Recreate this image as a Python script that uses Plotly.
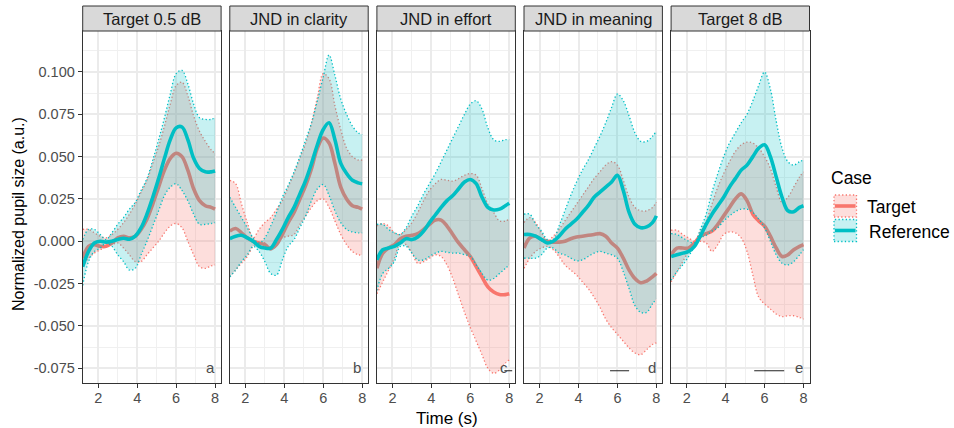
import plotly.graph_objects as go

# ---------------- data ----------------
TIME = [1.2, 1.5, 1.8, 2.1, 2.4, 2.7, 3.0, 3.3, 3.6, 3.9, 4.2, 4.5, 4.8, 5.1,
        5.4, 5.7, 6.0, 6.3, 6.6, 6.9, 7.2, 7.5, 7.8, 8.0]

PANELS = ["Target 0.5 dB", "JND in clarity", "JND in effort", "JND in meaning", "Target 8 dB"]
LETTERS = ["a", "b", "c", "d", "e"]
CASES = ["Target", "Reference"]

# Panel a
a_tgt = [-0.010, -0.003, -0.002, -0.003, -0.003, -0.001, 0.002, 0.003, 0.002, 0.003, 0.007, 0.013,
         0.022, 0.032, 0.042, 0.049, 0.052, 0.050, 0.042, 0.031, 0.024, 0.021, 0.020, 0.019]
a_tgt_lo = [-0.015, -0.010, -0.007, -0.005, -0.003, -0.002, -0.001, -0.004, -0.008, -0.012, -0.012, -0.008,
            -0.004, 0.000, 0.005, 0.009, 0.0105, 0.008, 0.000, -0.008, -0.015, -0.016, -0.0145, -0.014]
a_tgt_hi = [0.007, 0.007, 0.005, 0.003, 0.002, 0.004, 0.007, 0.011, 0.016, 0.022, 0.029, 0.036,
            0.046, 0.056, 0.068, 0.081, 0.092, 0.094, 0.086, 0.074, 0.065, 0.059, 0.054, 0.052]
a_ref = [-0.015, -0.006, -0.001, 0.000, -0.0005, 0.000, 0.001, 0.0018, 0.0012, 0.003, 0.008, 0.016,
         0.026, 0.037, 0.049, 0.060, 0.067, 0.0675, 0.060, 0.049, 0.043, 0.041, 0.041, 0.0415]
a_ref_lo = [-0.026, -0.012, -0.006, -0.004, -0.001, -0.003, -0.008, -0.012, -0.017, -0.016, -0.008, 0.000,
            0.009, 0.018, 0.027, 0.032, 0.034, 0.030, 0.024, 0.016, 0.010, 0.010, 0.0105, 0.011]
a_ref_hi = [0.001, 0.007, 0.007, 0.004, 0.001, 0.005, 0.010, 0.014, 0.019, 0.023, 0.030, 0.037,
            0.048, 0.060, 0.073, 0.087, 0.099, 0.101, 0.093, 0.081, 0.073, 0.072, 0.072, 0.073]

# Panel b
b_tgt = [0.006, 0.0075, 0.005, 0.002, 0.000, -0.001, -0.002, -0.0045, -0.002, 0.004, 0.011, 0.017,
         0.025, 0.033, 0.043, 0.055, 0.061, 0.058, 0.046, 0.032, 0.025, 0.021, 0.020, 0.019]
b_tgt_lo = [-0.021, -0.017, -0.013, -0.009, -0.003, -0.001, -0.001, -0.005, -0.002, 0.002, 0.003, 0.004,
            0.010, 0.015, 0.020, 0.024, 0.025, 0.020, 0.012, 0.004, -0.002, -0.006, -0.008, -0.008]
b_tgt_hi = [0.036, 0.034, 0.022, 0.011, 0.002, 0.007, 0.011, 0.014, 0.019, 0.024, 0.032, 0.040,
            0.049, 0.058, 0.070, 0.085, 0.099, 0.096, 0.080, 0.066, 0.055, 0.050, 0.048, 0.048]
b_ref = [0.0015, 0.003, 0.0035, 0.002, 0.000, -0.003, -0.004, -0.004, 0.001, 0.007, 0.014, 0.020,
         0.028, 0.036, 0.046, 0.057, 0.066, 0.070, 0.060, 0.046, 0.040, 0.036, 0.0345, 0.034]
b_ref_lo = [-0.021, -0.017, -0.012, -0.008, -0.003, -0.006, -0.012, -0.019, -0.020, -0.011, -0.003, 0.001,
            0.008, 0.015, 0.024, 0.031, 0.0335, 0.027, 0.018, 0.011, 0.007, 0.0055, 0.005, 0.005]
b_ref_hi = [0.026, 0.020, 0.014, 0.008, 0.002, -0.001, 0.002, 0.009, 0.017, 0.026, 0.033, 0.041,
            0.050, 0.060, 0.070, 0.083, 0.097, 0.110, 0.098, 0.084, 0.075, 0.068, 0.064, 0.063]

# Panel c
c_tgt = [-0.016, -0.007, -0.004, -0.002, 0.0015, 0.003, 0.0035, 0.0045, 0.007, 0.010, 0.0125, 0.0125,
         0.009, 0.004, -0.001, -0.005, -0.009, -0.015, -0.021, -0.027, -0.030, -0.0315, -0.0315, -0.031]
c_tgt_lo = [-0.031, -0.024, -0.017, -0.010, -0.001, -0.002, -0.007, -0.013, -0.012, -0.010, -0.008, -0.009,
            -0.014, -0.022, -0.032, -0.042, -0.051, -0.059, -0.067, -0.075, -0.078, -0.076, -0.072, -0.070]
c_tgt_hi = [0.009, 0.0105, 0.009, 0.005, 0.004, 0.007, 0.011, 0.017, 0.024, 0.030, 0.034, 0.0365,
            0.036, 0.0355, 0.037, 0.039, 0.040, 0.039, 0.031, 0.022, 0.017, 0.012, 0.012, 0.013]
c_ref = [-0.011, -0.005, -0.004, -0.003, -0.001, 0.0015, 0.001, 0.0025, 0.006, 0.011, 0.0155, 0.020,
         0.024, 0.027, 0.031, 0.035, 0.0365, 0.034, 0.026, 0.020, 0.0185, 0.019, 0.021, 0.0225]
c_ref_lo = [-0.029, -0.019, -0.016, -0.012, -0.003, -0.003, -0.007, -0.011, -0.011, -0.009, -0.007, -0.006,
            -0.0065, -0.007, -0.007, -0.008, -0.009, -0.014, -0.019, -0.023, -0.022, -0.019, -0.016, -0.014]
c_ref_hi = [0.010, 0.010, 0.007, 0.005, 0.004, 0.008, 0.015, 0.021, 0.028, 0.034, 0.040, 0.047,
            0.054, 0.061, 0.068, 0.075, 0.081, 0.083, 0.078, 0.067, 0.060, 0.059, 0.060, 0.060]

# Panel d
d_tgt = [-0.004, 0.002, 0.003, 0.001, 0.000, -0.0005, -0.0005, 0.000, 0.0015, 0.0025, 0.003, 0.0035,
         0.004, 0.0045, 0.003, -0.001, -0.004, -0.010, -0.017, -0.022, -0.0245, -0.0235, -0.021, -0.019]
d_tgt_lo = [-0.016, -0.010, -0.006, -0.004, -0.003, -0.005, -0.009, -0.014, -0.017, -0.020, -0.024, -0.028,
            -0.033, -0.039, -0.046, -0.051, -0.055, -0.059, -0.063, -0.066, -0.067, -0.064, -0.061, -0.060]
d_tgt_hi = [0.011, 0.014, 0.011, 0.005, 0.000, 0.003, 0.007, 0.012, 0.017, 0.022, 0.027, 0.032,
            0.037, 0.041, 0.045, 0.047, 0.045, 0.036, 0.026, 0.020, 0.018, 0.018, 0.020, 0.023]
d_ref = [0.004, 0.004, 0.003, 0.001, -0.001, 0.000, 0.003, 0.007, 0.010, 0.013, 0.017, 0.021,
         0.026, 0.029, 0.032, 0.035, 0.039, 0.030, 0.017, 0.010, 0.008, 0.0085, 0.011, 0.015]
d_ref_lo = [-0.010, -0.010, -0.010, -0.008, -0.004, -0.004, -0.007, -0.008, -0.010, -0.0115, -0.011, -0.009,
            -0.007, -0.006, -0.007, -0.008, -0.010, -0.018, -0.028, -0.038, -0.042, -0.042, -0.037, -0.034]
d_ref_hi = [0.016, 0.016, 0.010, 0.006, 0.001, 0.001, 0.009, 0.018, 0.027, 0.035, 0.042, 0.048,
            0.055, 0.062, 0.070, 0.079, 0.087, 0.083, 0.074, 0.064, 0.059, 0.059, 0.062, 0.065]

# Panel e
e_tgt = [-0.008, -0.004, -0.004, -0.004, -0.001, 0.003, 0.0045, 0.006, 0.010, 0.015, 0.020, 0.025,
         0.028, 0.024, 0.016, 0.012, 0.009, 0.003, -0.004, -0.009, -0.008, -0.005, -0.003, -0.002]
e_tgt_lo = [-0.024, -0.018, -0.012, -0.006, -0.002, 0.000, -0.001, -0.006, -0.002, 0.004, 0.0055, 0.005,
            0.002, -0.006, -0.020, -0.033, -0.037, -0.040, -0.043, -0.0445, -0.044, -0.044, -0.045, -0.046]
e_tgt_hi = [0.0065, 0.0065, 0.004, 0.002, 0.000, 0.006, 0.012, 0.022, 0.032, 0.040, 0.047, 0.053,
            0.057, 0.0585, 0.058, 0.055, 0.050, 0.043, 0.032, 0.023, 0.026, 0.032, 0.038, 0.041]
e_ref = [-0.009, -0.008, -0.007, -0.006, -0.003, 0.003, 0.010, 0.016, 0.021, 0.026, 0.032, 0.037,
         0.042, 0.045, 0.050, 0.055, 0.057, 0.050, 0.038, 0.026, 0.018, 0.0175, 0.020, 0.021]
e_ref_lo = [-0.023, -0.018, -0.014, -0.009, -0.003, 0.002, 0.0035, 0.006, 0.008, 0.012, 0.015, 0.0175,
            0.019, 0.019, 0.017, 0.013, 0.008, 0.000, -0.008, -0.013, -0.014, -0.012, -0.008, -0.005]
e_ref_hi = [0.0045, 0.004, 0.002, 0.000, -0.001, 0.007, 0.016, 0.029, 0.040, 0.050, 0.058, 0.064,
            0.070, 0.075, 0.083, 0.092, 0.100, 0.090, 0.071, 0.055, 0.047, 0.045, 0.047, 0.048]

TARGET_MEAN = [a_tgt, b_tgt, c_tgt, d_tgt, e_tgt]
TARGET_LO = [a_tgt_lo, b_tgt_lo, c_tgt_lo, d_tgt_lo, e_tgt_lo]
TARGET_HI = [a_tgt_hi, b_tgt_hi, c_tgt_hi, d_tgt_hi, e_tgt_hi]
REF_MEAN = [a_ref, b_ref, c_ref, d_ref, e_ref]
REF_LO = [a_ref_lo, b_ref_lo, c_ref_lo, d_ref_lo, e_ref_lo]
REF_HI = [a_ref_hi, b_ref_hi, c_ref_hi, d_ref_hi, e_ref_hi]

# significance bars (start, end) per panel, None if absent
SIG_START = [None, None, 7.75, 5.62, 5.47]
SIG_END = [None, None, 8.15, 6.60, 7.01]
SIG_Y = -0.0765
LETTER_X = 7.75
LETTER_Y = -0.0745

Y_TICKS = [-0.075, -0.050, -0.025, 0.000, 0.025, 0.050, 0.075, 0.100]
Y_TICK_TEXT = ["-0.075", "-0.050", "-0.025", "0.000", "0.025", "0.050", "0.075", "0.100"]
X_TICKS = [2, 4, 6, 8]

# ---------------- style ----------------
W, H = 954, 428
RED = "#F8766D"
TEAL = "#00BFC4"
RED_FILL = "rgba(248,118,109,0.24)"
TEAL_FILL = "rgba(0,191,196,0.22)"
FONT = "Liberation Sans, Arial, Helvetica, sans-serif"
DOT = "1.3px,2.3px"
BAND_W = 1.3
LINE_W = 3.6

PANEL_L = 82.7
PANEL_W = 138.4
PANEL_GAP = 8.7
PLOT_TOP = 31.0
PLOT_BOT = 383.3
STRIP_TOP = 6.0


def px(x):
    return x / W


def py(y):
    return 1 - y / H


fig = go.Figure()
shapes = []
annotations = []

for i in range(5):
    ax = "" if i == 0 else str(i + 1)
    xref, yref = "x" + ax, "y" + ax
    # target ribbon
    fig.add_trace(go.Scatter(x=TIME, y=TARGET_LO[i], mode="lines", xaxis=xref, yaxis=yref,
                             line=dict(color=RED, width=BAND_W, dash=DOT, shape="spline", smoothing=1),
                             showlegend=False, hoverinfo="skip"))
    fig.add_trace(go.Scatter(x=TIME, y=TARGET_HI[i], mode="lines", xaxis=xref, yaxis=yref,
                             fill="tonexty", fillcolor=RED_FILL,
                             line=dict(color=RED, width=BAND_W, dash=DOT, shape="spline", smoothing=1),
                             showlegend=False, hoverinfo="skip"))
    fig.add_trace(go.Scatter(x=TIME, y=TARGET_MEAN[i], mode="lines", xaxis=xref, yaxis=yref,
                             line=dict(color=RED, width=LINE_W, shape="spline", smoothing=1),
                             showlegend=False, name=CASES[0]))
    # reference ribbon
    fig.add_trace(go.Scatter(x=TIME, y=REF_LO[i], mode="lines", xaxis=xref, yaxis=yref,
                             line=dict(color=TEAL, width=BAND_W, dash=DOT, shape="spline", smoothing=1),
                             showlegend=False, hoverinfo="skip"))
    fig.add_trace(go.Scatter(x=TIME, y=REF_HI[i], mode="lines", xaxis=xref, yaxis=yref,
                             fill="tonexty", fillcolor=TEAL_FILL,
                             line=dict(color=TEAL, width=BAND_W, dash=DOT, shape="spline", smoothing=1),
                             showlegend=False, hoverinfo="skip"))
    fig.add_trace(go.Scatter(x=TIME, y=REF_MEAN[i], mode="lines", xaxis=xref, yaxis=yref,
                             line=dict(color=TEAL, width=LINE_W, shape="spline", smoothing=1),
                             showlegend=False, name=CASES[1]))
    # significance bar
    if SIG_START[i] is not None:
        fig.add_trace(go.Scatter(x=[SIG_START[i], SIG_END[i]], y=[SIG_Y, SIG_Y], mode="lines",
                                 xaxis=xref, yaxis=yref, line=dict(color="#222222", width=1.2),
                                 showlegend=False, hoverinfo="skip"))
    # panel letter
    annotations.append(dict(x=LETTER_X, y=LETTER_Y, xref=xref, yref=yref, text=LETTERS[i],
                            showarrow=False, font=dict(family=FONT, size=15, color="#4D4D4D")))

    x0 = PANEL_L + i * (PANEL_W + PANEL_GAP)
    x1 = x0 + PANEL_W
    fig.update_layout(**{
        "xaxis" + ax: dict(domain=[px(x0), px(x1)], range=[1.2, 8.31], anchor=yref,
                           tickvals=X_TICKS, ticks="outside", ticklen=4, tickwidth=1, tickcolor="#333333",
                           tickfont=dict(family=FONT, size=14.5, color="#4D4D4D"),
                           ticklabelstandoff=-3,
                           showgrid=True, gridcolor="#EBEBEB", gridwidth=1.5,
                           minor=dict(dtick=1, tick0=0, showgrid=True, gridcolor="#F0F0F0", gridwidth=0.8,
                                      ticks=""),
                           showline=True, mirror=True, linecolor="#333333", linewidth=1, zeroline=False),
        "yaxis" + ax: dict(domain=[py(PLOT_BOT), py(PLOT_TOP)], range=[-0.0839, 0.1242], anchor=xref,
                           tickvals=Y_TICKS, ticktext=Y_TICK_TEXT,
                           showticklabels=(i == 0), ticks="outside" if i == 0 else "",
                           ticklen=4, tickwidth=1, tickcolor="#333333",
                           tickfont=dict(family=FONT, size=14.5, color="#4D4D4D"),
                           showgrid=True, gridcolor="#EBEBEB", gridwidth=1.5,
                           minor=dict(dtick=0.0125, tick0=0, showgrid=True, gridcolor="#F0F0F0",
                                      gridwidth=0.8, ticks=""),
                           showline=True, mirror=True, linecolor="#333333", linewidth=1, zeroline=False),
    })
    # strip
    shapes.append(dict(type="rect", xref="paper", yref="paper", x0=px(x0), x1=px(x1),
                       y0=py(PLOT_TOP), y1=py(STRIP_TOP), fillcolor="#D9D9D9",
                       line=dict(color="#333333", width=1), layer="above"))
    annotations.append(dict(x=px((x0 + x1) / 2), y=py((STRIP_TOP + PLOT_TOP) / 2), xref="paper", yref="paper",
                            text=PANELS[i], showarrow=False, xanchor="center", yanchor="middle",
                            font=dict(family=FONT, size=16.5, color="#1A1A1A")))

# axis titles
annotations.append(dict(x=px(447), y=py(418.5), xref="paper", yref="paper", text="Time (s)",
                        showarrow=False, xanchor="center", yanchor="middle",
                        font=dict(family=FONT, size=17, color="#000000")))
annotations.append(dict(x=px(18), y=py(214), xref="paper", yref="paper",
                        text="Normalized pupil size (a.u.)", textangle=-90, showarrow=False,
                        xanchor="center", yanchor="middle",
                        font=dict(family=FONT, size=16, color="#000000")))

# manual legend
annotations.append(dict(x=px(829), y=py(178), xref="paper", yref="paper", text="Case",
                        showarrow=False, xanchor="left", yanchor="middle",
                        font=dict(family=FONT, size=17.5, color="#000000")))
legend_rows = [(CASES[0], RED, RED_FILL, 195.0, 865), (CASES[1], TEAL, TEAL_FILL, 219.5, 867)]
for label, col, fcol, top, tx in legend_rows:
    shapes.append(dict(type="rect", xref="paper", yref="paper", x0=px(834), x1=px(856.5),
                       y0=py(top + 22), y1=py(top), fillcolor=fcol,
                       line=dict(color=col, width=BAND_W, dash=DOT)))
    shapes.append(dict(type="line", xref="paper", yref="paper", x0=px(835), x1=px(855.5),
                       y0=py(top + 11), y1=py(top + 11), line=dict(color=col, width=LINE_W)))
    annotations.append(dict(x=px(tx), y=py(top + 12), xref="paper", yref="paper", text=label,
                            showarrow=False, xanchor="left", yanchor="middle",
                            font=dict(family=FONT, size=17.5, color="#000000")))

fig.update_layout(width=W, height=H, autosize=False, margin=dict(l=0, r=0, t=0, b=0),
                  paper_bgcolor="white", plot_bgcolor="white", showlegend=False,
                  shapes=shapes, annotations=annotations, font=dict(family=FONT))

fig.write_html("out.html")
